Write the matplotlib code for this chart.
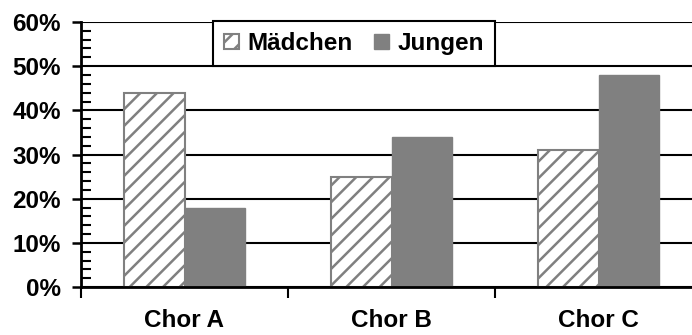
import numpy as np
import matplotlib.pyplot as plt
from matplotlib.ticker import MultipleLocator, FixedLocator

plt.rcParams['font.family'] = ['Liberation Sans', 'DejaVu Sans']
plt.rcParams['font.weight'] = 'bold'
plt.rcParams['hatch.linewidth'] = 1.8

choirs = ['Chor A', 'Chor B', 'Chor C']
maedchen = [44, 25, 31]
jungen = [18, 34, 48]

grey = '#808080'
x = np.arange(len(choirs))
w = 0.29

fig = plt.figure(figsize=(6.92, 3.35), dpi=100)
ax = fig.add_axes([81 / 692, 48 / 335, 621 / 692, 265 / 335])

ax.bar(x - w / 2, maedchen, w, facecolor='white', edgecolor=grey,
       hatch='//', linewidth=1.5, label='Mädchen', zorder=3)
ax.bar(x + w / 2, jungen, w, color=grey, edgecolor=grey,
       linewidth=1.0, label='Jungen', zorder=3)

ax.set_xlim(-0.5, 2.5)
ax.set_ylim(0, 60)

# y axis: major every 10 %, minor every 2 %
ax.yaxis.set_major_locator(MultipleLocator(10))
ax.yaxis.set_minor_locator(MultipleLocator(2))
ax.set_yticklabels([f'{int(v)}%' for v in ax.get_yticks()])
ax.tick_params(axis='y', which='major', direction='out', length=6.5, width=1.8,
               labelsize=17.5, pad=8)
ax.tick_params(axis='y', which='minor', direction='in', length=7, width=1.5)
ax.grid(axis='y', which='major', color='black', linewidth=1.5, zorder=1)

# x axis: boundary ticks, labels at category centres
ax.xaxis.set_major_locator(FixedLocator([-0.5, 0.5, 1.5, 2.5]))
ax.xaxis.set_minor_locator(FixedLocator(x))
ax.set_xticklabels([])
ax.set_xticklabels(choirs, minor=True)
ax.tick_params(axis='x', which='major', direction='out', length=8, width=1.5)
ax.tick_params(axis='x', which='minor', length=0, labelsize=17.5, pad=16)

for s in ['top', 'right']:
    ax.spines[s].set_visible(False)
for s in ['left', 'bottom']:
    ax.spines[s].set_linewidth(2)
    ax.spines[s].set_zorder(4)

leg = ax.legend(loc='upper left', bbox_to_anchor=(0.2126, 1.004), ncol=2,
                fontsize=17.5, frameon=True, fancybox=False, framealpha=1,
                edgecolor='black', handlelength=0.6, handleheight=0.6,
                handletextpad=0.35, columnspacing=0.9, borderpad=0.45,
                borderaxespad=0)
leg.get_frame().set_linewidth(1.5)
leg.set_zorder(5)

fig.savefig('out.png', dpi=100)
